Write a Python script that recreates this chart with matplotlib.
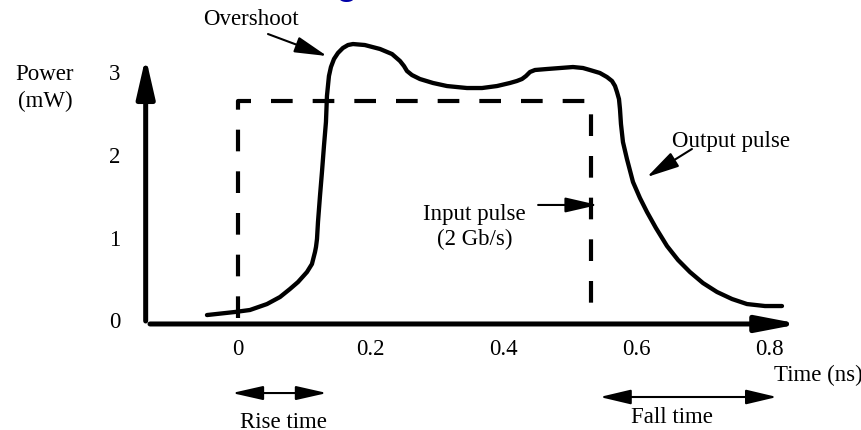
import matplotlib
matplotlib.use("Agg")
import matplotlib.pyplot as plt

# ---- data ----
out_t = [-0.0467, -0.0045, 0.018, 0.0437, 0.0633, 0.0783, 0.0904, 0.1039, 0.1114, 0.116,
         0.1175, 0.119, 0.1205, 0.1235, 0.1265, 0.1295, 0.1325, 0.134, 0.1355, 0.137,
         0.140, 0.1446, 0.1506, 0.158, 0.1657, 0.1732, 0.191, 0.2139, 0.232, 0.244,
         0.250, 0.2545, 0.262, 0.274, 0.2937, 0.3148, 0.3449, 0.3675, 0.390, 0.4096,
         0.420, 0.4277, 0.4337, 0.4398, 0.4473, 0.4654, 0.485, 0.5045, 0.5196, 0.530,
         0.545, 0.5557, 0.5633, 0.5678, 0.5708, 0.5738, 0.5753, 0.5768, 0.5798, 0.5858,
         0.5949, 0.6054, 0.616, 0.6295, 0.6461, 0.6627, 0.6807, 0.7003, 0.7214, 0.744,
         0.7666, 0.7937, 0.8193]
out_p = [0.060, 0.097, 0.121, 0.193, 0.278, 0.375, 0.459, 0.580, 0.677, 0.822,
         0.883, 0.979, 1.185, 1.499, 1.790, 2.104, 2.394, 2.709, 2.830, 2.950,
         3.059, 3.156, 3.229, 3.289, 3.325, 3.337, 3.325, 3.277, 3.216, 3.132,
         3.071, 3.011, 2.962, 2.914, 2.866, 2.829, 2.805, 2.805, 2.829, 2.866,
         2.890, 2.914, 2.950, 2.999, 3.023, 3.035, 3.047, 3.059, 3.047, 3.023,
         2.987, 2.938, 2.890, 2.830, 2.757, 2.672, 2.551, 2.370, 2.152, 1.947,
         1.669, 1.475, 1.306, 1.112, 0.895, 0.726, 0.580, 0.447, 0.339, 0.254,
         0.193, 0.169, 0.169]

in_t = [0.0, 0.0, 0.531, 0.531]
in_p = [0.03, 2.648, 2.648, -0.048]

x_ticks = [0, 0.2, 0.4, 0.6, 0.8]
x_tick_labels = ["0", "0.2", "0.4", "0.6", "0.8"]
y_ticks = [0, 1, 2, 3]
y_tick_labels = ["0", "1", "2", "3"]

# ---- figure ----
FONT = "Liberation Serif"
FS = 16.5
fig = plt.figure(figsize=(8.62, 4.31), dpi=100)
ax = fig.add_axes([0, 0, 1, 1])
ax.set_xlim(-0.3584, 0.9398)
ax.set_ylim(-1.330, 3.8815)
ax.axis("off")

# axes with arrow heads
x_axis_y = -0.048
y_axis_x = -0.139
ax.annotate("", xy=(y_axis_x, 3.18), xytext=(y_axis_x, -0.012),
            arrowprops=dict(arrowstyle="-|>,head_length=24,head_width=5.5",
                            mutation_scale=1, lw=3.6, color="black",
                            shrinkA=0, shrinkB=0))
ax.annotate("", xy=(0.846, x_axis_y), xytext=(-0.1325, x_axis_y),
            arrowprops=dict(arrowstyle="-|>,head_length=25,head_width=4.8",
                            mutation_scale=1, lw=3.6, color="black",
                            shrinkA=0, shrinkB=0))

# input pulse (dashed)
ax.plot(in_t, in_p, color="black", lw=3.0, dashes=(5.2, 4.8),
        solid_joinstyle="miter")
# output pulse
ax.plot(out_t, out_p, color="black", lw=3.1, solid_joinstyle="round",
        solid_capstyle="round")

# tick labels
for v, s in zip(x_ticks, x_tick_labels):
    ax.text(v, -0.411, s, ha="center", va="baseline", fontsize=FS, family=FONT)
for v, s in zip(y_ticks, y_tick_labels):
    ax.text(-0.186, v - 0.09, s, ha="center", va="baseline", fontsize=FS, family=FONT)

ax.text(-0.292, 2.914, "Power", ha="center", va="baseline", fontsize=FS, family=FONT)
ax.text(-0.2907, 2.59, "(mW)", ha="center", va="baseline", fontsize=FS, family=FONT)
ax.text(0.874, -0.7255, "Time (ns)", ha="center", va="baseline", fontsize=FS, family=FONT)

# annotations
thin = dict(mutation_scale=1, lw=1.5, color="black", shrinkA=0, shrinkB=0)
ax.text(0.0188, 3.579, "Overshoot", ha="center", va="baseline", fontsize=FS, family=FONT)
ax.annotate("", xy=(0.134, 3.192), xytext=(0.0452, 3.458),
            arrowprops=dict(arrowstyle="-|>,head_length=20,head_width=5", **thin))

ax.text(0.7425, 2.104, "Output pulse", ha="center", va="baseline", fontsize=FS, family=FONT)
ax.annotate("", xy=(0.616, 1.729), xytext=(0.6837, 2.068),
            arrowprops=dict(arrowstyle="-|>,head_length=20,head_width=5", **thin))

ax.text(0.3554, 1.221, "Input pulse", ha="center", va="baseline", fontsize=FS, family=FONT)
ax.text(0.357, 0.919, "(2 Gb/s)", ha="center", va="baseline", fontsize=FS, family=FONT)
ax.annotate("", xy=(0.542, 1.391), xytext=(0.452, 1.391),
            arrowprops=dict(arrowstyle="-|>,head_length=20,head_width=4.6", **thin))

ax.annotate("", xy=(0.134, -0.883), xytext=(-0.009, -0.883),
            arrowprops=dict(arrowstyle="<|-|>,head_length=19,head_width=4.3", **thin))
ax.text(0.0678, -1.29, "Rise time", ha="center", va="baseline", fontsize=FS, family=FONT)

ax.annotate("", xy=(0.8117, -0.931), xytext=(0.545, -0.931),
            arrowprops=dict(arrowstyle="<|-|>,head_length=19,head_width=4.5", **thin))
ax.text(0.6536, -1.233, "Fall time", ha="center", va="baseline", fontsize=FS, family=FONT)

# fragment of a cut-off title at the very top
ax.text(0.164, 3.95, "g", ha="center", va="baseline", fontsize=26,
        family="Liberation Sans", fontweight="bold", color="#0000a8")

fig.savefig("out.png", dpi=100)
